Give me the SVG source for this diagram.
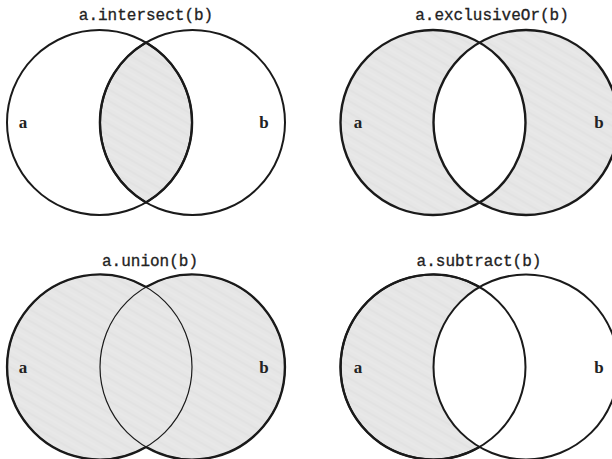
<svg xmlns="http://www.w3.org/2000/svg" width="612" height="459" viewBox="0 0 612 459">
<defs>
<pattern id="tex" patternUnits="userSpaceOnUse" width="10" height="10" patternTransform="rotate(30)">
<rect width="10" height="10" fill="#e6e6e6"/>
<line x1="0" y1="3" x2="10" y2="3" stroke="#dfdfdf" stroke-width="1"/>
<line x1="0" y1="8" x2="10" y2="8" stroke="#ebebeb" stroke-width="1"/>
</pattern>
</defs>
<style>
.title{font-family:"Liberation Mono","DejaVu Sans Mono",monospace;font-size:16px;fill:#222;stroke:#222;stroke-width:0.3;text-anchor:middle}
.lbl{font-family:"Liberation Serif","DejaVu Serif",serif;font-size:17px;font-weight:bold;fill:#222;text-anchor:middle}
.c{fill:none;stroke:#1a1a1a;stroke-width:2}
.thick{fill:none;stroke:#1a1a1a;stroke-width:2.4}
.thin{fill:none;stroke:#1a1a1a;stroke-width:1.2}
.sh{fill:url(#tex)}
</style>
<rect width="612" height="459" fill="#ffffff"/>

<g id="intersect">
<text class="title" x="146" y="20">a.intersect(b)</text>
<path class="sh" d="M146,42.5 A92.5,92.5 0 0 1 146,202.5 A92.5,92.5 0 0 1 146,42.5 Z"/>
<circle class="c" cx="99.5" cy="122.5" r="92.5"/>
<circle class="c" cx="192.5" cy="122.5" r="92.5"/>
<path class="thick" d="M146,42.5 A92.5,92.5 0 0 1 146,202.5 A92.5,92.5 0 0 1 146,42.5 Z"/>
<text class="lbl" x="23" y="128">a</text>
<text class="lbl" x="264" y="128">b</text>
</g>

<g id="exclusiveOr">
<text class="title" x="492" y="20">a.exclusiveOr(b)</text>
<path class="sh" fill-rule="evenodd" d="M340.5,122.5 a92.5,92.5 0 1 0 185,0 a92.5,92.5 0 1 0 -185,0 Z M433.5,122.5 a92.5,92.5 0 1 0 185,0 a92.5,92.5 0 1 0 -185,0 Z"/>
<circle class="thick" cx="433" cy="122.5" r="92.5"/>
<circle class="thick" cx="526" cy="122.5" r="92.5"/>
<text class="lbl" x="358" y="128">a</text>
<text class="lbl" x="599" y="128">b</text>
</g>

<g id="union">
<text class="title" x="150" y="266">a.union(b)</text>
<circle class="sh" cx="99.5" cy="367" r="92.5"/>
<circle class="sh" cx="192.5" cy="367" r="92.5"/>
<circle class="thin" cx="99.5" cy="367" r="92.5"/>
<circle class="thin" cx="192.5" cy="367" r="92.5"/>
<path class="thick" d="M146,287 A92.5,92.5 0 1 0 146,447"/>
<path class="thick" d="M146,287 A92.5,92.5 0 1 1 146,447"/>
<text class="lbl" x="23" y="373">a</text>
<text class="lbl" x="264" y="373">b</text>
</g>

<g id="subtract">
<text class="title" x="479" y="266">a.subtract(b)</text>
<circle class="sh" cx="433" cy="367" r="92.5"/>
<circle fill="#ffffff" cx="526" cy="367" r="92.5"/>
<path class="thick" d="M479.5,287 A92.5,92.5 0 1 0 479.5,447"/>
<circle class="c" cx="433" cy="367" r="92.5"/>
<circle class="c" cx="526" cy="367" r="92.5"/>
<text class="lbl" x="358" y="373">a</text>
<text class="lbl" x="599" y="373">b</text>
</g>
</svg>
